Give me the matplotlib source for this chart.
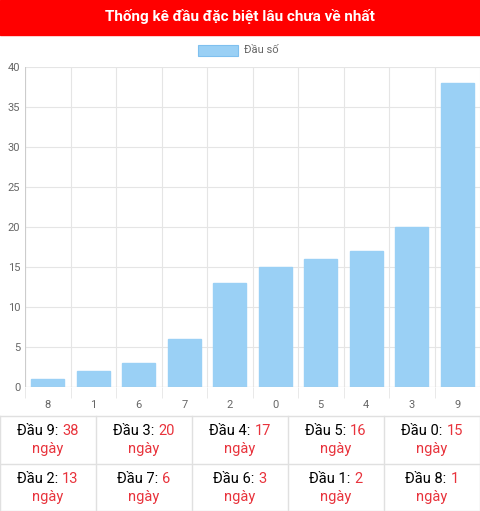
import matplotlib
matplotlib.use("Agg")
import matplotlib.pyplot as plt

plt.rcParams['font.family'] = ['Roboto', 'DejaVu Sans']

cats = ['8', '1', '6', '7', '2', '0', '5', '4', '3', '9']
vals = [1, 2, 3, 6, 13, 15, 16, 17, 20, 38]
title = 'Thống kê đầu đặc biệt lâu chưa về nhất'
legend_label = 'Đầu số'
table_heads = ['9', '3', '4', '5', '0', '2', '7', '6', '1', '8']
table_vals = [38, 20, 17, 16, 15, 13, 6, 3, 2, 1]

W, H = 480, 511
fig = plt.figure(figsize=(W/100, H/100), dpi=100)

# title bar
fig.patches.append(plt.Rectangle((0, 1-35/H), 1, 35/H, transform=fig.transFigure,
                                 color='#ff0000', zorder=0))
fig.text(0.5, 1-17/H, title, color='white', fontsize=11, fontweight='bold',
         ha='center', va='center')

# legend
fig.patches.append(plt.Rectangle((198/W, 1-56/H), 40/W, 11/H, transform=fig.transFigure,
                                 facecolor='#9ad0f5', edgecolor='#7fc0ef', lw=0.8))
fig.text(244/W, 1-50/H, legend_label, color='#666666', fontsize=8, va='center')

ax = fig.add_axes([25/W, 1-387/H, 455/W, 320/H])
x = range(len(cats))
ax.bar(x, vals, width=0.73, color='#9ad0f5', edgecolor='#9ad0f5', zorder=2)
ax.set_xlim(-0.5, len(cats)-0.5)
ax.set_ylim(0, 40)
ax.set_yticks(range(0, 41, 5))
ax.set_xticks(list(x))
ax.set_xticklabels(cats)
ax.set_xticks([i+0.5 for i in range(-1, len(cats))], minor=True)
ax.grid(True, which='minor', axis='x', color='#e5e5e5', lw=0.8)
ax.grid(True, which='major', axis='y', color='#e5e5e5', lw=0.8)
ax.tick_params(which='both', length=0)
ax.tick_params(axis='x', which='minor', length=8, color='#e5e5e5')
ax.tick_params(labelsize=8, labelcolor='#666666')
ax.tick_params(axis='x', pad=9)
for s in ax.spines.values():
    s.set_visible(False)
ax.axhline(0, color='#cccccc', lw=0.8)
ax.axvline(-0.5, color='#cccccc', lw=0.8)

# table
top = 416
rowh = 47.5
colw = W/5
for r in range(3):
    y = 1-(top + r*rowh)/H
    fig.add_artist(plt.Line2D([0, 1], [y, y], transform=fig.transFigure, color='#e0e0e0', lw=1))
for c in range(6):
    xx = c*colw/W
    fig.add_artist(plt.Line2D([xx, xx], [0, 1-top/H], transform=fig.transFigure, color='#e0e0e0', lw=1))
for i, (h, v) in enumerate(zip(table_heads, table_vals)):
    r, c = divmod(i, 5)
    cx = (c+0.5)*colw
    cy = top + r*rowh
    t1 = 'Đầu %s: ' % h
    t2 = str(v)
    # measure approximate
    txt = fig.text(0, 0, t1, fontsize=10.5)
    txt2 = fig.text(0, 0, t2, fontsize=10.5)
    fig.canvas.draw()
    r_ = fig.canvas.get_renderer()
    w1 = txt.get_window_extent(r_).width
    w2 = txt2.get_window_extent(r_).width
    x0 = cx - (w1+w2)/2
    txt.set_position((x0/W, 1-(cy+15)/H)); txt.set_va('center'); txt.set_color('black')
    txt2.set_position(((x0+w1)/W, 1-(cy+15)/H)); txt2.set_va('center'); txt2.set_color('#e8333c')
    fig.text(cx/W, 1-(cy+33)/H, 'ngày', fontsize=10.5, color='#e8333c', ha='center', va='center')

fig.savefig('out.png', dpi=100)
